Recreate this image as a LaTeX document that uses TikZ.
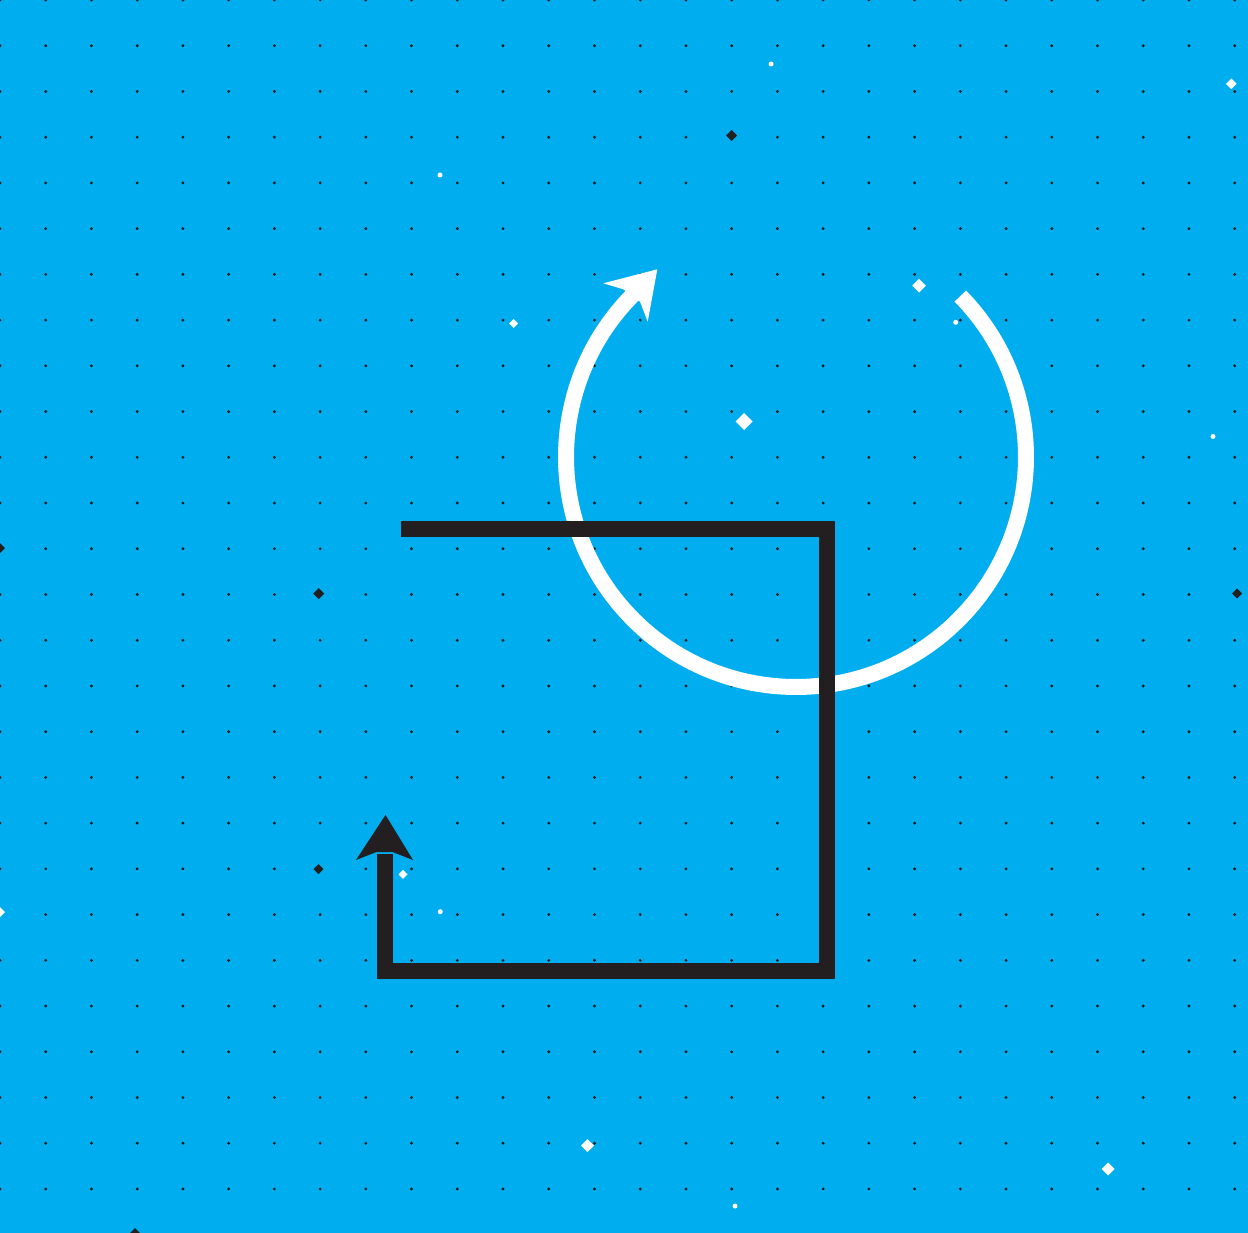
\documentclass[tikz,border=0pt]{standalone}
\definecolor{bgcyan}{HTML}{00AEEF}
\definecolor{ink}{HTML}{231F20}
\tikzset{
  griddot/.style={fill=ink, draw=none},
  blackpath/.style={draw=ink, line width=16pt, line join=miter, line cap=butt},
  whitearc/.style={draw=white, line width=16pt, line cap=butt},
  headblack/.style={fill=ink, draw=none},
  headwhite/.style={fill=white, draw=none},
  wdia/.style={fill=white, draw=none},
  bdia/.style={fill=ink, draw=none},
}
\newcommand{\diam}[4]{\fill[#1] (#2-#4,#3) -- (#2,#3-#4) -- (#2+#4,#3) -- (#2,#3+#4) -- cycle;}
\begin{document}
\begin{tikzpicture}[x=1pt,y=-1pt]
\useasboundingbox (0,0) rectangle (1248,1233);
\fill[bgcyan] (0,0) rectangle (1248,1233);
\begin{scope}
\clip (0,0) rectangle (1248,1233);
% dot grid
\foreach \i in {0,...,27}{
  \foreach \j in {0,...,27}{
    \fill[griddot] (45.73*\i,45.73*\j) circle (1.6);
  }
}
% scattered diamonds and dots
\diam{bdia}{731.5}{135.5}{5.5}
\diam{bdia}{0}{548}{5}
\diam{bdia}{318.7}{593.7}{5.5}
\diam{bdia}{1237}{593.5}{5}
\diam{bdia}{318.5}{869}{5}
\diam{bdia}{135}{1233}{5}
\diam{wdia}{1231.3}{83.8}{5.3}
\diam{wdia}{919}{285.7}{6.8}
\diam{wdia}{513.5}{323.5}{4.5}
\diam{wdia}{744}{421.5}{8.5}
\diam{wdia}{403}{874.3}{4.5}
\diam{wdia}{0}{912}{5}
\diam{wdia}{587.5}{1145.5}{6.5}
\diam{wdia}{1108}{1169}{6.5}
\fill[white] (771,64) circle (2.5);
\fill[white] (440,175) circle (2.5);
\fill[white] (955.7,322.3) circle (2.5);
\fill[white] (1213,436.5) circle (2.5);
\fill[white] (440.3,911.7) circle (2.5);
\fill[white] (735,1206) circle (2.5);
\end{scope}
% white circular arrow
\coordinate (ctr) at (796,457);
\draw[whitearc] (ctr) ++(-44.4:230) arc[start angle=-44.4, end angle=225.5, radius=230];
\coordinate (wtip) at (657.3,269.3);
\coordinate (wb1) at (603.3,283.3);
\coordinate (wn1) at (623.3,289.3);
\coordinate (wn2) at (640,301.7);
\coordinate (wb2) at (647.7,321.7);
\fill[headwhite] (wtip) -- (wb1) -- (wn1) -- (wn2) -- (wb2) -- cycle;
% black path with arrow
\coordinate (bstart) at (401,528.7);
\coordinate (bc1) at (827,528.7);
\coordinate (bc2) at (827,971);
\coordinate (bc3) at (384.5,971);
\coordinate (bend) at (384.5,854);
\draw[blackpath] (bstart) -- (bc1) -- (bc2) -- (bc3) -- (bend);
\coordinate (btip) at (385.5,815);
\coordinate (bb1) at (356,860);
\coordinate (bn1) at (376.5,852);
\coordinate (bn2) at (392.5,852);
\coordinate (bb2) at (413,860);
\fill[headblack] (btip) -- (bb2) -- (bn2) -- (bn1) -- (bb1) -- cycle;
\end{tikzpicture}
\end{document}
